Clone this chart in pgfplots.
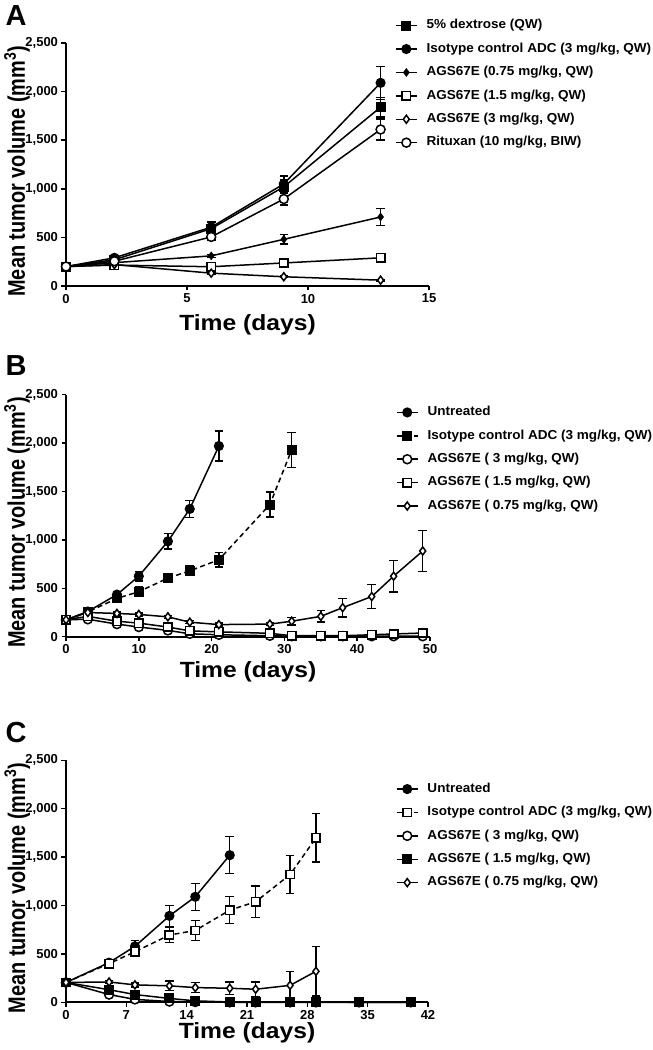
\documentclass[border=0pt]{standalone}
\usepackage{fontspec}
\setmainfont{Liberation Sans}[FakeStretch=1.12]
\newfontfamily\legfont{Liberation Sans}[FakeStretch=1.04]
\newfontfamily\plainfont{Liberation Sans}
\newfontfamily\ylfont{Liberation Sans}[FakeStretch=0.83]
\usepackage{pgfplots}
\usepackage{pgfplotstable}
\pgfplotsset{compat=1.18}

% ---------- Panel A ----------
\pgfplotstableread{
x y e
0 200 0
2 270 20
6 590 40
9 1020 70
13 1840 100
}\Adex
\pgfplotstableread{
x y e
0 200 0
2 290 20
6 605 55
9 1050 80
13 2090 170
}\Aiso
\pgfplotstableread{
x y e
0 200 0
2 240 10
6 310 15
9 480 50
13 710 90
}\Alow
\pgfplotstableread{
x y e
0 200 0
2 215 10
6 198 15
9 237 20
13 290 25
}\Amid
\pgfplotstableread{
x y e
0 200 0
2 220 10
6 132 10
9 95 10
13 60 8
}\Ahigh
\pgfplotstableread{
x y e
0 200 0
2 255 15
6 505 30
9 895 60
13 1610 110
}\Arit

% ---------- Panel B ----------
\pgfplotstableread{
x y e
0 175 0
3 260 20
7 435 30
10 625 50
14 985 80
17 1320 90
21 1970 155
}\Bunt
\pgfplotstableread{
x y e
0 175 0
3 255 20
7 395 30
10 465 50
14 605 30
17 680 50
21 795 75
28 1365 130
31 1930 180
}\Biso
\pgfplotstableread{
x y e
0 175 0
3 180 10
7 130 10
10 100 10
14 65 10
17 30 5
21 20 5
28 10 5
31 5 3
35 5 3
38 5 3
42 5 3
45 5 3
49 5 3
}\Bhigh
\pgfplotstableread{
x y e
0 175 0
3 210 10
7 160 10
10 140 10
14 100 10
17 60 8
21 50 8
28 35 8
31 10 5
35 10 5
38 10 5
42 20 5
45 28 8
49 38 8
}\Bmid
\pgfplotstableread{
x y e
0 175 0
3 250 15
7 240 15
10 230 15
14 205 15
17 150 15
21 125 15
28 130 15
31 160 40
35 210 60
38 300 95
42 415 125
45 625 165
49 885 210
}\Blow

% ---------- Panel C ----------
\pgfplotstableread{
x y e
0 205 0
5 410 30
8 578 60
12 893 110
15 1090 140
19 1520 190
}\Cunt
\pgfplotstableread{
x y e
0 205 0
5 400 30
8 522 50
12 695 80
15 742 105
19 952 140
22 1038 165
26 1320 195
29 1698 250
}\Ciso
\pgfplotstableread{
x y e
0 205 0
5 80 10
8 30 8
12 8 4
15 3 2
19 0 0
22 0 0
26 0 0
29 0 0
34 0 0
40 0 0
}\Chigh
\pgfplotstableread{
x y e
0 205 0
5 130 20
8 80 15
12 40 10
15 15 5
19 3 2
22 2 2
26 2 2
29 2 2
34 0 0
40 0 0
}\Cmid
\pgfplotstableread{
x y e
0 205 0
5 210 15
8 180 20
12 170 50
15 152 50
19 145 65
22 135 75
26 175 145
29 320 255
}\Clow

\pgfplotsset{
  panel/.style={
    scale only axis,
    xmin=0, ymin=0, ymax=2500,
    axis lines*=left,
    axis line style={line width=1.7pt, -},
    tick align=outside,
    major tick length=4.5pt,
    every tick/.style={black, line width=1.5pt},
    ytick={0,500,1000,1500,2000,2500},
    scaled y ticks=false,
    tick label style={font=\plainfont\fontsize{13}{15}\selectfont\bfseries},
    /pgf/number format/1000 sep={,},
    /pgf/number format/assume math mode=true,
    clip=false,
    ylabel={Mean tumor volume (mm\textsuperscript{3})},
    ylabel style={font=\ylfont\fontsize{24}{28}\selectfont\bfseries,
      at={(axis description cs:-0.113,0.472)}, anchor=base},
    xlabel={Time (days)},
    legend cell align=left,
    legend style={draw=none, fill=none, inner sep=0pt, outer sep=0pt, anchor=north west,
      font=\legfont\fontsize{13}{15}\selectfont\bfseries,
      row sep=10.9pt,
      nodes={inner sep=0pt, text height=9.5pt, text depth=3pt},
      /tikz/every odd column/.style={column sep=9pt}},
    legend image code/.code={\draw[mark repeat=2,mark phase=2,##1] plot coordinates {(0pt,0pt) (10.5pt,0pt) (21pt,0pt)};},
  },
  ser/.style={black, line width=1.5pt,
    error bars/y dir=both, error bars/y explicit,
    error bars/error bar style={line width=1.4pt, solid},
    error bars/error mark options={rotate=90, mark size=4.3pt, line width=1.4pt, solid}},
  fsq/.style={mark=square*, mark size=4.2pt, mark options={solid, fill=black}},
  fci/.style={mark=*, mark size=4.3pt, mark options={solid, fill=black}},
  osq/.style={mark=square*, mark size=4.2pt, mark options={solid, fill=white}},
  oci/.style={mark=*, mark size=4.5pt, mark options={solid, fill=white}},
  odi/.style={mark=diamond*, mark size=4pt, mark options={solid, fill=white}},
  sdi/.style={mark=diamond*, mark size=3.2pt, mark options={solid, fill=black}},
  xlab/.style={xlabel style={font=\fontsize{22}{24}\selectfont\bfseries, at={(axis description cs:0.5,#1)}, anchor=base}},
}

\begin{document}
\begin{tikzpicture}[x=1pt,y=1pt]
\useasboundingbox (0,0) rectangle (653,1050);

% Panel A
\begin{axis}[panel, at={(66pt,764pt)}, anchor=origin, width=363pt, height=243pt,
  xmax=15, xtick={0,5,10,15}, xlab=-0.185,
  legend style={at={(0.9066,1.097)}}]
\addplot[ser, fsq] table[x=x,y=y,y error=e]{\Adex};
\addlegendentry{5\% dextrose (QW)}
\addplot[ser, fci] table[x=x,y=y,y error=e]{\Aiso};
\addlegendentry{Isotype control ADC (3 mg/kg, QW)}
\addplot[ser, sdi] table[x=x,y=y,y error=e]{\Alow};
\addlegendentry{AGS67E (0.75 mg/kg, QW)}
\addplot[ser, osq] table[x=x,y=y,y error=e]{\Amid};
\addlegendentry{AGS67E (1.5 mg/kg, QW)}
\addplot[ser, odi] table[x=x,y=y,y error=e]{\Ahigh};
\addlegendentry{AGS67E (3 mg/kg, QW)}
\addplot[ser, oci] table[x=x,y=y,y error=e]{\Arit};
\addlegendentry{Rituxan (10 mg/kg, BIW)}
\end{axis}

% Panel B
\begin{axis}[panel, at={(66pt,413.3pt)}, anchor=origin, width=364pt, height=242pt,
  xmax=50, xtick={0,10,20,30,40,50}, xlab=-0.168,
  legend style={at={(0.9066,0.9525)}}]
\addplot[ser, fci] table[x=x,y=y,y error=e]{\Bunt};
\addlegendentry{Untreated}
\addplot[ser, fsq, dashed, dash pattern=on 5pt off 3.5pt] table[x=x,y=y,y error=e]{\Biso};
\addlegendentry{Isotype control ADC (3 mg/kg, QW)}
\addplot[ser, oci] table[x=x,y=y,y error=e]{\Bhigh};
\addlegendentry{AGS67E ( 3 mg/kg, QW)}
\addplot[ser, osq] table[x=x,y=y,y error=e]{\Bmid};
\addlegendentry{AGS67E ( 1.5 mg/kg, QW)}
\addplot[ser, odi] table[x=x,y=y,y error=e]{\Blow};
\addlegendentry{AGS67E ( 0.75 mg/kg, QW)}
\end{axis}

% Panel C
\begin{axis}[panel, at={(66pt,47.7pt)}, anchor=origin, width=362pt, height=242pt,
  xmax=42, xtick={0,7,14,21,28,35,42}, xlab=-0.150,
  legend style={at={(0.9116,0.907)}}]
\addplot[ser, fci] table[x=x,y=y,y error=e]{\Cunt};
\addlegendentry{Untreated}
\addplot[ser, osq, dashed, dash pattern=on 5pt off 3.5pt] table[x=x,y=y,y error=e]{\Ciso};
\addlegendentry{Isotype control ADC (3 mg/kg, QW)}
\addplot[ser, oci] table[x=x,y=y,y error=e]{\Chigh};
\addlegendentry{AGS67E ( 3 mg/kg, QW)}
\addplot[ser, fsq] table[x=x,y=y,y error=e]{\Cmid};
\addlegendentry{AGS67E ( 1.5 mg/kg, QW)}
\addplot[ser, odi] table[x=x,y=y,y error=e]{\Clow};
\addlegendentry{AGS67E ( 0.75 mg/kg, QW)}
\end{axis}

\node[font=\plainfont\fontsize{29}{30}\selectfont\bfseries] at (16,1034) {A};
\node[font=\plainfont\fontsize{29}{30}\selectfont\bfseries] at (16,684) {B};
\node[font=\plainfont\fontsize{29}{30}\selectfont\bfseries] at (16,317) {C};
\end{tikzpicture}
\end{document}
